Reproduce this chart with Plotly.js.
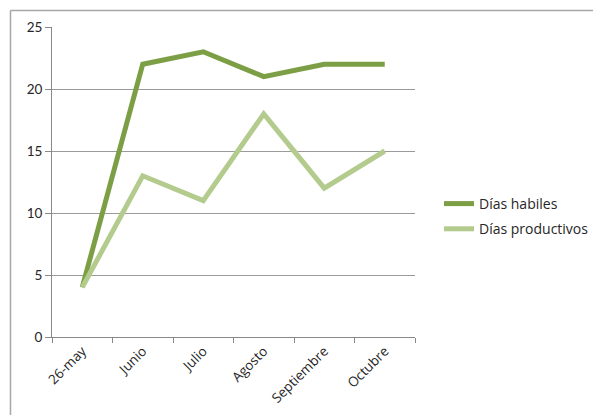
<!DOCTYPE html>
<html>
<head>
<meta charset="utf-8">
<script src="https://cdn.plot.ly/plotly-3.0.1.min.js"></script>
<style>html,body{margin:0;padding:0;background:#fff;}#chart{width:593px;height:415px;}</style>
</head>
<body>
<div id="chart"></div>
<script>
const categories = ["26-may", "Junio", "Julio", "Agosto", "Septiembre", "Octubre"];
const diasHabiles = [4, 22, 23, 21, 22, 22];
const diasProductivos = [4, 13, 11, 18, 12, 15];
const yTicks = [0, 5, 10, 15, 20, 25];

const W = 593, H = 415;
const L = 52, R = 415, T = 27, B = 337;
const px2x = p => (p - L) / (R - L);
const px2y = p => (B - p) / (B - T);

const traces = [
  {x: categories, y: diasHabiles, name: "Días habiles", type: "scatter", mode: "lines",
   legendgroup: "a", line: {color: "#7C9F45", width: 5}},
  {x: categories, y: diasProductivos, name: "Días productivos", type: "scatter", mode: "lines",
   legendgroup: "b", line: {color: "#B4CB8E", width: 5}}
];

const txt = "#262626";

const layout = {
  width: W, height: H,
  margin: {l: L, r: W - R, t: T, b: H - B, pad: 0, autoexpand: false},
  paper_bgcolor: "#fff", plot_bgcolor: "#fff",
  font: {family: "Lato, sans-serif", size: 13, color: txt},
  showlegend: true,
  legend: {x: px2x(439), y: px2y(188), xanchor: "left", yanchor: "top",
           font: {family: "'Open Sans', sans-serif", size: 14, color: txt},
           itemwidth: 30, tracegroupgap: 4, bgcolor: "rgba(0,0,0,0)"},
  xaxis: {type: "category", range: [-0.5, 5.5], tickangle: -45, automargin: false,
          ticks: "outside", ticklen: 5, tickcolor: "#888", tickson: "boundaries",
          showline: true, linecolor: "#888", linewidth: 1, showgrid: false,
          zeroline: false, tickfont: {family: "'Open Sans', sans-serif", size: 13.5, color: txt}, fixedrange: true},
  yaxis: {range: [0, 25], tickvals: yTicks, ticktext: yTicks.map(String), automargin: false,
          ticks: "outside", ticklen: 6, tickcolor: "#888",
          showline: true, linecolor: "#888", linewidth: 1,
          showgrid: true, gridcolor: "#9a9a9a", gridwidth: 1, zeroline: false,
          tickfont: {family: "Lato, sans-serif", size: 13.5, color: txt}, fixedrange: true},
  shapes: [
    {type: "line", xref: "paper", yref: "paper", x0: px2x(10.5), x1: px2x(600), y0: px2y(10.5), y1: px2y(10.5),
     line: {color: "#a6a6a6", width: 1.5}},
    {type: "line", xref: "paper", yref: "paper", x0: px2x(10.5), x1: px2x(10.5), y0: px2y(10.5), y1: px2y(420),
     line: {color: "#a6a6a6", width: 1.5}}
  ]
};

Plotly.newPlot("chart", traces, layout, {displayModeBar: false, staticPlot: true});
</script>
</body>
</html>
